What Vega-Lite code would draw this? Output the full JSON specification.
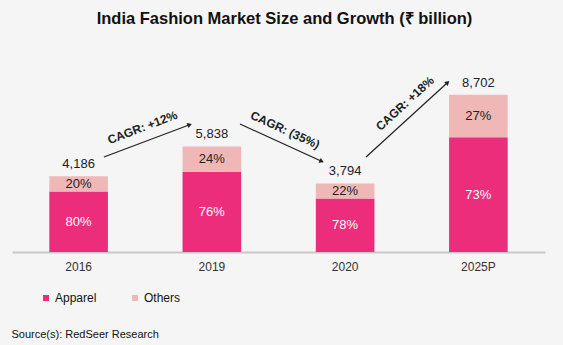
{
  "$schema": "https://vega.github.io/schema/vega-lite/v6.json",
  "autosize": {"type": "none"},
  "padding": {"left": 12, "top": 40, "right": 18, "bottom": 93},
  "width": 533,
  "height": 212,
  "background": "#f5f5f5",
  "config": {"view": {"stroke": null}, "font": "Liberation Sans"},
  "title": {"text": "India Fashion Market Size and Growth (₹ billion)", "fontSize": 16.5, "fontWeight": "bold", "color": "#111111", "anchor": "middle", "dx": 6, "offset": 13, "font": "Liberation Sans"},
  "datasets": {
    "segments": [
      {"year": "2016", "segment": "Apparel", "value": 3349, "pct": "80%"},
      {"year": "2016", "segment": "Others", "value": 837, "pct": "20%"},
      {"year": "2019", "segment": "Apparel", "value": 4437, "pct": "76%"},
      {"year": "2019", "segment": "Others", "value": 1401, "pct": "24%"},
      {"year": "2020", "segment": "Apparel", "value": 2959, "pct": "78%"},
      {"year": "2020", "segment": "Others", "value": 835, "pct": "22%"},
      {"year": "2025P", "segment": "Apparel", "value": 6352, "pct": "73%"},
      {"year": "2025P", "segment": "Others", "value": 2350, "pct": "27%"}
    ],
    "totals": [
      {"year": "2016", "total": 4186, "label": "4,186"},
      {"year": "2019", "total": 5838, "label": "5,838"},
      {"year": "2020", "total": 3794, "label": "3,794"},
      {"year": "2025P", "total": 8702, "label": "8,702"}
    ],
    "cagr": [
      {"id": 1, "label": "CAGR: +12%", "x": 0.69, "y": 5256, "x2": 1.328, "y2": 7027, "tx": 0.979, "ty": 6889},
      {"id": 2, "label": "CAGR: (35%)", "x": 1.711, "y": 7082, "x2": 2.319, "y2": 5035, "tx": 2.049, "ty": 6750},
      {"id": 3, "label": "CAGR: +18%", "x": 2.657, "y": 5256, "x2": 3.265, "y2": 9351, "tx": 2.949, "ty": 8217}
    ]
  },
  "resolve": {"scale": {"x": "independent"}},
  "layer": [
    {
      "layer": [
        {
          "data": {"name": "segments"},
          "mark": {"type": "bar"},
          "encoding": {
            "x": {"field": "year", "type": "nominal", "sort": ["2016", "2019", "2020", "2025P"],
              "scale": {"paddingInner": 0.56, "paddingOuter": 0.28},
              "axis": {"title": "Source(s): RedSeer Research", "titleAnchor": "start", "titleAlign": "left", "titleX": -1, "titleY": 82, "titleBaseline": "middle", "titleFontSize": 11, "titleFontWeight": "normal", "titleColor": "#111111", "titleFont": "Liberation Sans",
                "labelAngle": 0, "labelFontSize": 12, "labelColor": "#333333", "labelPadding": 9, "labelFont": "Liberation Sans", "ticks": false, "domainColor": "#c8c8c8", "domainWidth": 2}},
            "y": {"field": "value", "type": "quantitative", "stack": "zero", "scale": {"domain": [0, 11730], "nice": false}, "axis": null},
            "color": {"field": "segment", "type": "nominal", "scale": {"domain": ["Apparel", "Others"], "range": ["#ec2d7b", "#f0b7b7"]},
              "legend": {"title": null, "orient": "none", "legendX": 28, "legendY": 252, "direction": "horizontal", "symbolType": "square", "symbolSize": 36, "labelFontSize": 12, "labelColor": "#111111", "labelFont": "Liberation Sans", "labelOffset": 3, "columnPadding": 32, "symbolStrokeWidth": 0}},
            "order": {"field": "segment", "sort": "ascending"}
          }
        },
        {
          "data": {"name": "segments"},
          "transform": [
            {"stack": "value", "groupby": ["year"], "sort": [{"field": "segment", "order": "ascending"}], "as": ["v0", "v1"]},
            {"calculate": "(datum.v0 + datum.v1) / 2", "as": "mid"}
          ],
          "mark": {"type": "text", "fontSize": 13, "font": "Liberation Sans", "baseline": "middle"},
          "encoding": {
            "x": {"field": "year", "type": "nominal", "sort": ["2016", "2019", "2020", "2025P"], "scale": {"paddingInner": 0.56, "paddingOuter": 0.28}},
            "y": {"field": "mid", "type": "quantitative"},
            "text": {"field": "pct"},
            "color": {"condition": {"test": "datum.segment === 'Apparel'", "value": "#ffffff"}, "value": "#222222"}
          }
        },
        {
          "data": {"name": "totals"},
          "mark": {"type": "text", "fontSize": 13, "font": "Liberation Sans", "baseline": "middle", "dy": -12, "color": "#222222"},
          "encoding": {
            "x": {"field": "year", "type": "nominal", "sort": ["2016", "2019", "2020", "2025P"], "scale": {"paddingInner": 0.56, "paddingOuter": 0.28}},
            "y": {"field": "total", "type": "quantitative"},
            "text": {"field": "label"}
          }
        }
      ]
    },
    {
      "data": {"name": "cagr"},
      "layer": [
        {
          "mark": {"type": "rule", "color": "#222222", "strokeWidth": 1.2},
          "encoding": {
            "x": {"field": "x", "type": "quantitative", "scale": {"domain": [0, 4], "nice": false, "zero": false}, "axis": null},
            "y": {"field": "y", "type": "quantitative"},
            "x2": {"field": "x2"},
            "y2": {"field": "y2"}
          }
        },
        {
          "transform": [{"filter": "datum.id === 1"}],
          "mark": {"type": "point", "shape": "triangle", "filled": true, "size": 28, "angle": 69.4, "color": "#222222", "opacity": 1},
          "encoding": {"x": {"field": "x2", "type": "quantitative"}, "y": {"field": "y2", "type": "quantitative"}}
        },
        {
          "transform": [{"filter": "datum.id === 2"}],
          "mark": {"type": "point", "shape": "triangle", "filled": true, "size": 28, "angle": 114.5, "color": "#222222", "opacity": 1},
          "encoding": {"x": {"field": "x2", "type": "quantitative"}, "y": {"field": "y2", "type": "quantitative"}}
        },
        {
          "transform": [{"filter": "datum.id === 3"}],
          "mark": {"type": "point", "shape": "triangle", "filled": true, "size": 28, "angle": 47.6, "color": "#222222", "opacity": 1},
          "encoding": {"x": {"field": "x2", "type": "quantitative"}, "y": {"field": "y2", "type": "quantitative"}}
        },
        {
          "transform": [{"filter": "datum.id === 1"}],
          "mark": {"type": "text", "fontSize": 12, "fontWeight": "bold", "font": "Liberation Sans", "angle": 339.3, "color": "#222222", "baseline": "middle"},
          "encoding": {"x": {"field": "tx", "type": "quantitative"}, "y": {"field": "ty", "type": "quantitative"}, "text": {"field": "label"}}
        },
        {
          "transform": [{"filter": "datum.id === 2"}],
          "mark": {"type": "text", "fontSize": 12, "fontWeight": "bold", "font": "Liberation Sans", "angle": 24.5, "color": "#222222", "baseline": "middle"},
          "encoding": {"x": {"field": "tx", "type": "quantitative"}, "y": {"field": "ty", "type": "quantitative"}, "text": {"field": "label"}}
        },
        {
          "transform": [{"filter": "datum.id === 3"}],
          "mark": {"type": "text", "fontSize": 12, "fontWeight": "bold", "font": "Liberation Sans", "angle": 317.6, "color": "#222222", "baseline": "middle"},
          "encoding": {"x": {"field": "tx", "type": "quantitative"}, "y": {"field": "ty", "type": "quantitative"}, "text": {"field": "label"}}
        }
      ]
    }
  ]
}
